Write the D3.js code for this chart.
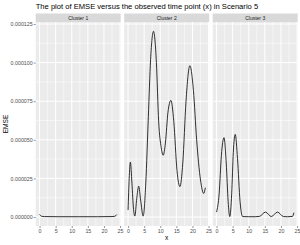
<!DOCTYPE html>
<html>
<head>
<meta charset="utf-8">
<script src="https://cdn.jsdelivr.net/npm/d3@7"></script>
<style>
  body { margin: 0; background: #fff; }
  svg { display: block; font-family: "Liberation Sans", Arial, sans-serif; }
</style>
</head>
<body>
<div id="chart"></div>
<script>
// values (EMSE in units of 1e-6)
const clusters = ["Cluster 1", "Cluster 2", "Cluster 3"];

const c1X = [0, 0.6, 1.5, 6, 12, 18, 22.5, 23.4, 24];
const c1Y = [1.7, 0.5, 0.3, 0.2, 0.2, 0.2, 0.3, 0.5, 1.6];

const c2X = [0, 0.35, 0.72, 1.2, 1.7, 2.1, 2.7, 3.3, 3.9, 4.7, 5.5, 6.3, 7.0, 7.9, 8.8, 9.5, 10.3, 10.9,
             11.6, 12.4, 13.3, 14.2, 15.2, 16.1, 17.0, 18.0, 19.2, 20.3, 21.3, 22.5, 23.5, 24];
const c2Y = [4.5, 25, 35.6, 22, 5, 0.6, 12, 20, 11, 0.6, 22, 65, 102, 120.3, 100, 62, 45, 40,
             48, 68, 75.5, 62, 30, 19.7, 35, 75, 98, 82, 50, 24, 15.3, 19];

const c3X = [0, 0.8, 1.5, 2.3, 3.0, 3.6, 4.1, 4.7, 5.2, 5.8, 6.5, 7.3, 8.1, 10, 12, 13.3, 15.2, 17.0,
             18.9, 20.8, 22, 23.6, 24];
const c3Y = [3.2, 15, 40, 51.4, 35, 10, 0.3, 15, 42, 53.5, 38, 10, 0.3, 0.2, 0.2, 0.4, 3.2, 0.3,
             3.2, 0.3, 0.2, 0.4, 2.8];

const xTicks = [0, 5, 10, 15, 20, 25];
const yTicks = [0, 0.000025, 0.00005, 0.000075, 0.0001, 0.000125];

const series = [
  c1X.map((x, i) => [x, c1Y[i] * 1e-6]),
  c2X.map((x, i) => [x, c2Y[i] * 1e-6]),
  c3X.map((x, i) => [x, c3Y[i] * 1e-6])
];

const w = 300, h = 245;
const left = 35.7, panelW = 85, gap = 3.5;
const stripTop = 13.5, stripH = 8.5;
const panelTop = stripTop + stripH, panelBottom = 226;

const svg = d3.select("#chart").append("svg")
  .attr("width", w)
  .attr("height", h);

const all = series.flat();
const xMin = d3.min(all, d => d[0]), xMax = d3.max(all, d => d[0]);
const yMin = d3.min(all, d => d[1]), yMax = d3.max(all, d => d[1]);
const xPad = (xMax - xMin) * 0.05, yPad = (yMax - yMin) * 0.05;

const yScale = d3.scaleLinear()
  .domain([yMin - yPad, yMax + yPad])
  .range([panelBottom, panelTop]);

const yMinor = d3.range(0.0000125, 0.00013, 0.000025);
const xMinor = [2.5, 7.5, 12.5, 17.5, 22.5];

const line = d3.line().curve(d3.curveMonotoneX);

clusters.forEach((name, k) => {
  const x0 = left + k * (panelW + gap);
  const xScale = d3.scaleLinear()
    .domain([xMin - xPad, xMax + xPad])
    .range([x0, x0 + panelW]);

  const g = svg.append("g");

  g.append("rect")
    .attr("x", x0).attr("y", panelTop)
    .attr("width", panelW).attr("height", panelBottom - panelTop)
    .attr("fill", "#EBEBEB");

  // minor grid
  g.selectAll(".ym").data(yMinor).enter().append("line")
    .attr("x1", x0).attr("x2", x0 + panelW)
    .attr("y1", d => yScale(d)).attr("y2", d => yScale(d))
    .attr("stroke", "#fff").attr("stroke-width", 0.5);
  g.selectAll(".xm").data(xMinor).enter().append("line")
    .attr("x1", d => xScale(d)).attr("x2", d => xScale(d))
    .attr("y1", panelTop).attr("y2", panelBottom)
    .attr("stroke", "#fff").attr("stroke-width", 0.5);

  // major grid
  g.selectAll(".yg").data(yTicks).enter().append("line")
    .attr("x1", x0).attr("x2", x0 + panelW)
    .attr("y1", d => yScale(d)).attr("y2", d => yScale(d))
    .attr("stroke", "#fff").attr("stroke-width", 1);
  g.selectAll(".xg").data(xTicks).enter().append("line")
    .attr("x1", d => xScale(d)).attr("x2", d => xScale(d))
    .attr("y1", panelTop).attr("y2", panelBottom)
    .attr("stroke", "#fff").attr("stroke-width", 1);

  // strip
  g.append("rect")
    .attr("x", x0).attr("y", stripTop)
    .attr("width", panelW).attr("height", stripH)
    .attr("fill", "#D9D9D9");
  g.append("text")
    .attr("x", x0 + panelW / 2).attr("y", stripTop + stripH / 2 + 1.8)
    .attr("text-anchor", "middle")
    .style("font-size", "5px")
    .attr("fill", "#1A1A1A")
    .text(name);

  // curve
  g.append("path")
    .attr("d", line(series[k].map(d => [xScale(d[0]), yScale(d[1])])))
    .attr("fill", "none")
    .attr("stroke", "#1a1a1a")
    .attr("stroke-width", 0.9);

  // x axis
  const xAxis = d3.axisBottom(xScale)
    .tickValues(xTicks)
    .tickSize(2)
    .tickPadding(1.5);
  const ax = svg.append("g")
    .attr("transform", `translate(0,${panelBottom})`)
    .call(xAxis);
  ax.select(".domain").remove();
  ax.selectAll(".tick line").attr("stroke", "#333").attr("stroke-width", 0.5);
  ax.selectAll(".tick text").attr("fill", "#4D4D4D").style("font-size", "5.3px")
    .style("font-family", "Liberation Sans, Arial, sans-serif");
});

// y axis
const yAxis = d3.axisLeft(yScale)
  .tickValues(yTicks)
  .tickFormat(d3.format(".6f"))
  .tickSize(2)
  .tickPadding(1);
const ay = svg.append("g")
  .attr("transform", `translate(${left},0)`)
  .call(yAxis);
ay.select(".domain").remove();
ay.selectAll(".tick line").attr("stroke", "#333").attr("stroke-width", 0.5);
ay.selectAll(".tick text").attr("fill", "#4D4D4D").style("font-size", "5.3px")
  .style("font-family", "Liberation Sans, Arial, sans-serif");

// titles
svg.append("text")
  .attr("x", left).attr("y", 9.3)
  .style("font-size", "7.6px")
  .attr("fill", "#000")
  .text("The plot of EMSE versus the observed time point (x) in Scenario 5");

const plotRight = left + 3 * panelW + 2 * gap;
svg.append("text")
  .attr("x", (left + plotRight) / 2).attr("y", 240)
  .attr("text-anchor", "middle")
  .style("font-size", "6.6px")
  .text("x");

svg.append("text")
  .attr("transform", `translate(8,${(panelTop + panelBottom) / 2}) rotate(-90)`)
  .attr("text-anchor", "middle")
  .style("font-size", "6.6px")
  .text("EMSE");
</script>
</body>
</html>
